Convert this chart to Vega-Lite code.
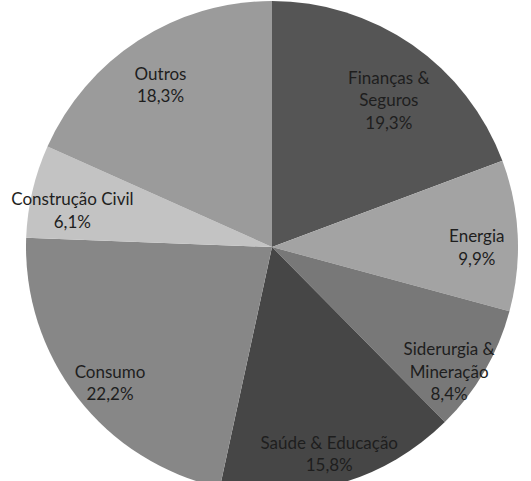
{
  "$schema": "https://vega.github.io/schema/vega-lite/v6.json",
  "width": 518,
  "height": 468,
  "autosize": {"type": "none"},
  "padding": {"left": 13, "top": 13, "right": 0, "bottom": 0},
  "background": "white",
  "view": {"stroke": null},
  "data": {
    "values": [
      {"order": 1, "sector": "Finanças & Seguros", "value": 19.3, "label": "Finanças  &\nSeguros\n19,3%"},
      {"order": 2, "sector": "Energia", "value": 9.9, "label": "Energia\n9,9%"},
      {"order": 3, "sector": "Siderurgia & Mineração", "value": 8.4, "label": "Siderurgia &\nMineração\n8,4%"},
      {"order": 4, "sector": "Saúde & Educação", "value": 15.8, "label": "Saúde & Educação\n15,8%"},
      {"order": 5, "sector": "Consumo", "value": 22.2, "label": "Consumo\n22,2%"},
      {"order": 6, "sector": "Construção Civil", "value": 6.1, "label": "Construção Civil\n6,1%"},
      {"order": 7, "sector": "Outros", "value": 18.3, "label": "Outros\n18,3%"}
    ]
  },
  "encoding": {
    "theta": {"field": "value", "type": "quantitative", "stack": true},
    "order": {"field": "order", "type": "quantitative"}
  },
  "layer": [
    {
      "mark": {"type": "arc", "radius": 246, "stroke": null},
      "encoding": {
        "color": {
          "field": "sector",
          "type": "nominal",
          "legend": null,
          "scale": {
            "domain": ["Finanças & Seguros", "Energia", "Siderurgia & Mineração", "Saúde & Educação", "Consumo", "Construção Civil", "Outros"],
            "range": ["#555555", "#a3a3a3", "#787878", "#464646", "#878787", "#c3c3c3", "#9b9b9b"]
          }
        }
      }
    },
    {
      "mark": {"type": "text", "radius": 205, "lineBreak": "\n", "font": "Lato", "fontSize": 17, "lineHeight": 22.5, "color": "#1e1e1e", "align": "center", "baseline": "middle"},
      "encoding": {
        "text": {"field": "label", "type": "nominal"}
      }
    }
  ]
}
